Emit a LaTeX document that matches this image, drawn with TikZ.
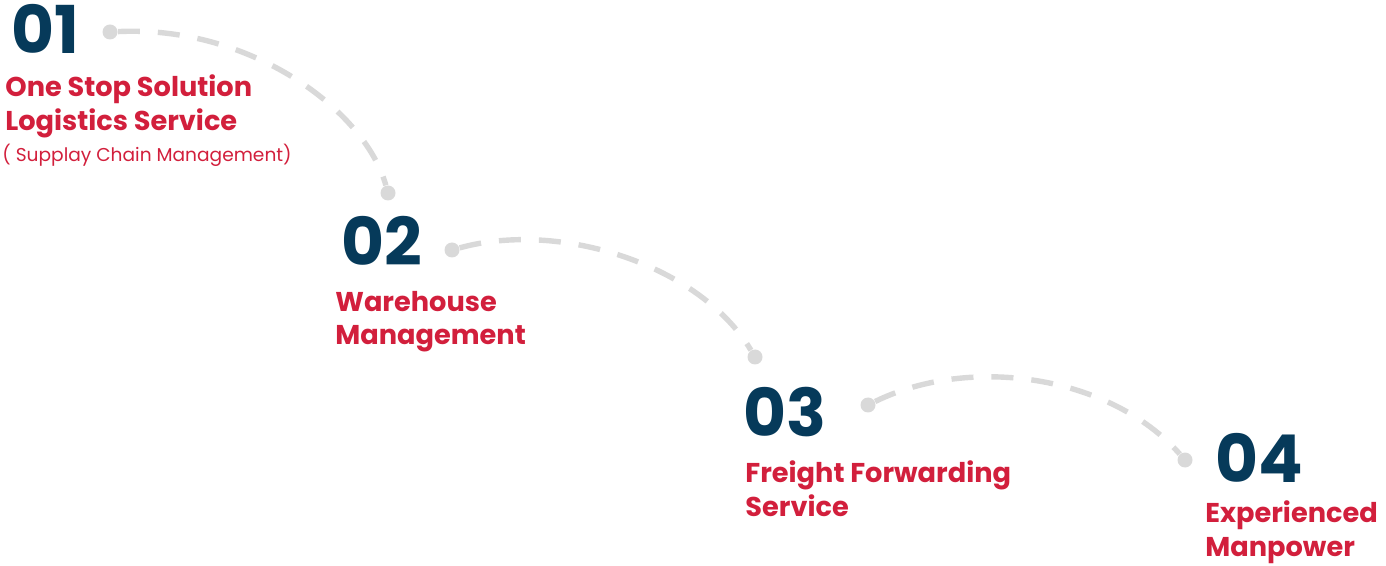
\documentclass[tikz,border=0pt]{standalone}
\usepackage{fontspec}
\setmainfont{Poppins}
\usetikzlibrary{positioning}

\definecolor{numblue}{HTML}{063A5A}
\definecolor{lblred}{HTML}{D21F3C}
\definecolor{trailgray}{HTML}{D9D9D9}

\tikzset{
  num/.style={anchor=base west, inner sep=0pt, text=numblue, font=\fontsize{33}{33}\selectfont\bfseries},
  lbl/.style={anchor=base west, inner sep=0pt, text=lblred, align=left, font=\fontsize{13.6}{17}\selectfont\bfseries},
  sublbl/.style={anchor=base west, inner sep=0pt, text=lblred, font=\fontsize{9.3}{12}\selectfont},
  dot/.style={circle, fill=trailgray, inner sep=0pt, minimum size=7.5pt},
  trail/.style={draw=trailgray, line width=2.7pt, dash pattern=on 11pt off 9pt}
}

\begin{document}
\begin{tikzpicture}[x=0.5pt,y=-0.5pt]
    \useasboundingbox (0,0) rectangle (1386,566);

    % numbers and labels (label base = last line)
    \node[num] (num1) at (11,54) {01};
    \node[lbl] (lbl1) at (5,131) {One Stop Solution\\Logistics Service};
    \node[sublbl] (sub1) at (2,162) {( Supplay Chain Management)};

    \node[num] (num2) at (341,266) {02};
    \node[lbl] (lbl2) at (335,345) {Warehouse\\Management};

    \node[num] (num3) at (743,437) {03};
    \node[lbl] (lbl3) at (745,516) {Freight Forwarding\\Service};

    \node[num] (num4) at (1215,482) {04};
    \node[lbl] (lbl4) at (1205,556) {Experienced\\Manpower};

    % dots
    \node[dot] (d1) at (110,32) {};
    \node[dot] (d2) at (388,193) {};
    \node[dot] (d3) at (452,250) {};
    \node[dot] (d4) at (755,357) {};
    \node[dot] (d5) at (868,405) {};
    \node[dot] (d6) at (1185,460) {};

    % dashed trails
    \draw[trail] (d1) .. controls (250,25) and (365,110) .. (d2);
    \draw[trail] (d3) .. controls (560,220) and (700,265) .. (d4);
    \draw[trail] (d5) .. controls (970,355) and (1110,375) .. (d6);
\end{tikzpicture}
\end{document}
